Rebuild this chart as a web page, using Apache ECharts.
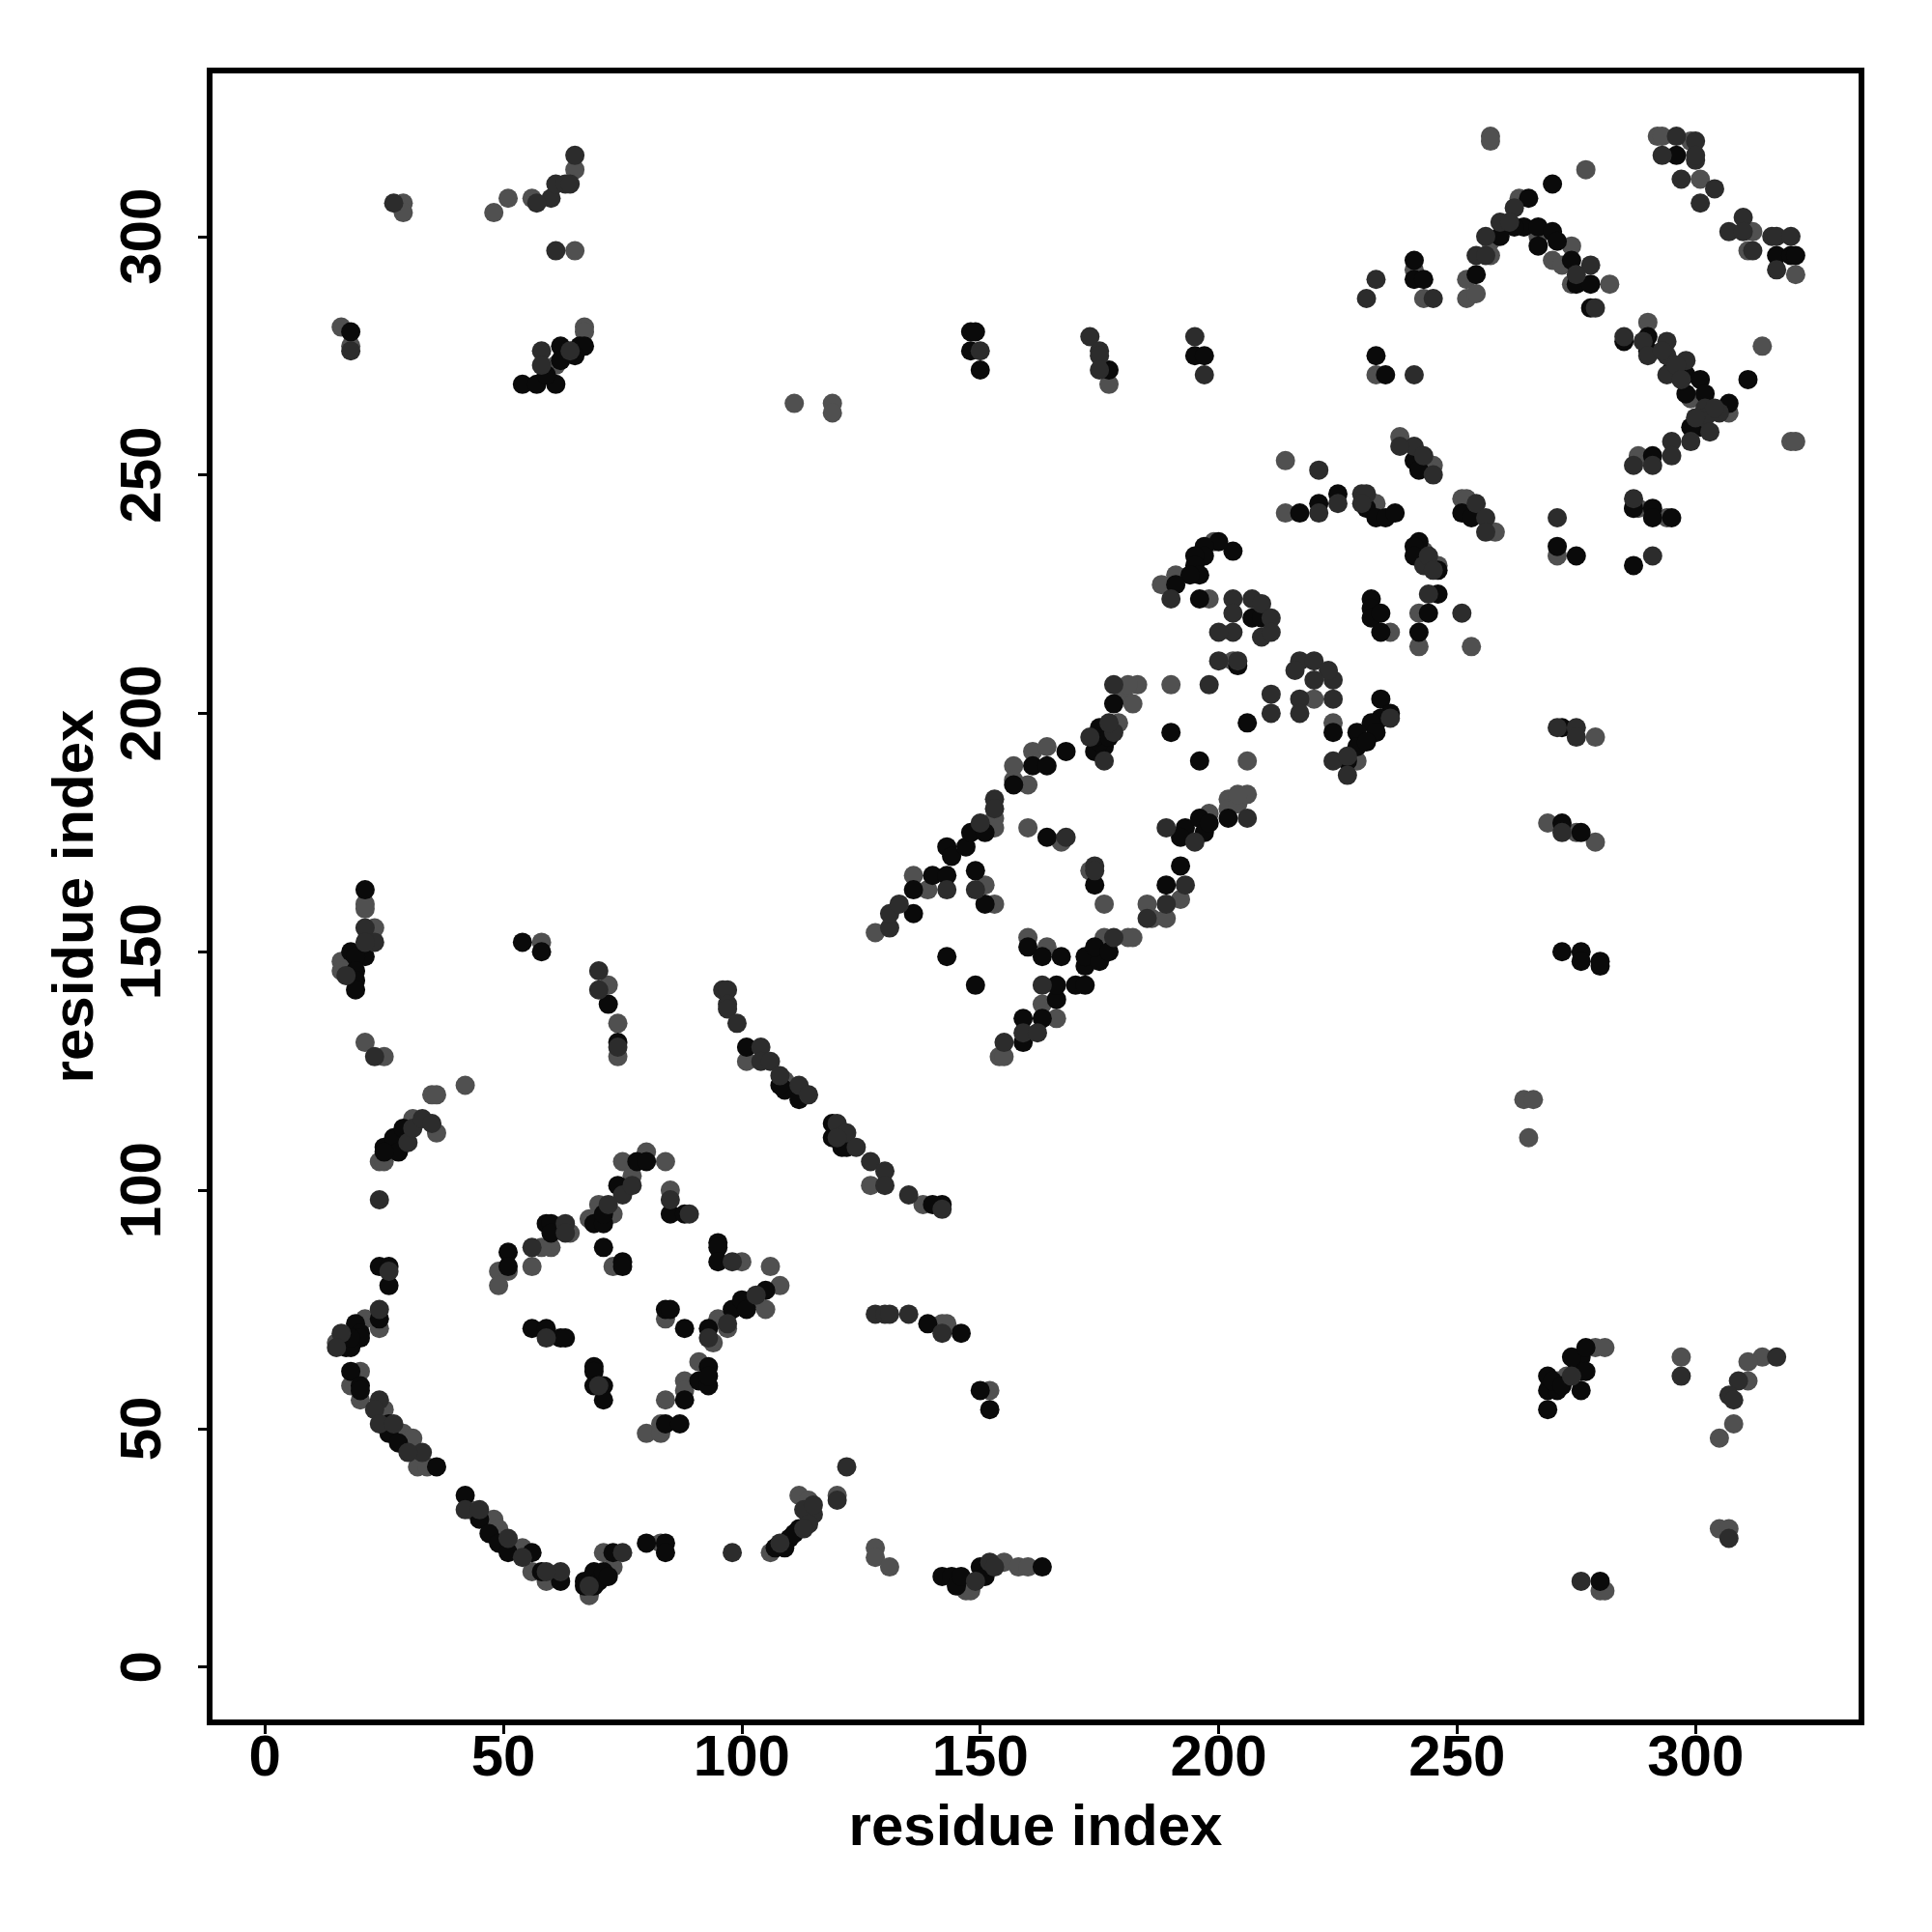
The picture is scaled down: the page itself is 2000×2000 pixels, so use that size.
<!DOCTYPE html>
<html><head><meta charset="utf-8">
<script src="https://cdn.jsdelivr.net/npm/echarts@6/dist/echarts.min.js"></script>
<style>html,body{margin:0;padding:0;background:#fff}#c{width:2000px;height:2000px}</style>
</head><body><div id="c"></div>
<script>
const xTitle = "residue index";
const yTitle = "residue index";
const tickValues = [0,50,100,150,200,250,300];
const axisMin = -11.6;
const axisMax = 334.8;

const greyPts = [
[15,68],[25,54],[20,62],[18,59],[20,56],[24,71],[29,49],[31,48],[32,42],[34,42],[43,33],[48,31],[49,29],[54,25],[56,20],[59,18],[68,15],[71,24],[73,21],[83,26],[21,73],
[49,83],[51,83],[49,80],[56,84],[60,88],[58,88],[64,91],[70,97],[73,95],[68,94],[73,84],[85,100],[100,85],[84,73],[91,64],[88,60],[88,58],[84,56],[80,49],[83,49],[83,51],[94,68],[95,73],[97,71],[102,77],[105,75],[106,84],[108,80],[80,108],[75,106],[84,106],[77,103],
[21,160],[21,159],[23,155],[16,148],[16,146],[21,131],[25,128],[42,122],[35,120],[36,120],[31,115],[36,112],[24,106],[25,106],[58,152],[72,143],[74,135],[74,128],[101,127],[109,123],[113,120],
[127,101],[138,97],[106,24],[112,36],[114,35],[128,25],[128,23],[131,21],[147,16],[148,16],[155,22],[158,21],[160,21],[152,58],[142,72],[143,72],[120,36],
[154,128],[155,128],[166,136],[163,139],[176,153],[181,153],[182,153],[128,154],[136,166],[139,163],[153,178],[153,176],[160,176],[151,164],[153,160],[160,153],[164,151],[167,173],[173,167],[176,160],[192,161],[185,160],[186,157],[189,157],[198,179],[202,182],[202,180],[204,181],[206,183],[204,183],
[157,189],[157,186],[160,185],[161,192],[164,193],[179,198],[180,204],[182,202],[183,206],[181,206],[190,206],[206,190],[220,203],[224,198],
[214,253],[214,242],[233,244],[238,258],[245,252],[251,245],[252,245],[258,238],[271,233],[199,236],[191,229],[188,227],[198,224],[236,217],[243,234],[246,231],[242,221],[242,214],[253,214],[279,195],[269,177],[275,175],[279,173],[229,190],[203,211],[287,243],
[264,119],[266,119],[265,111],[271,60],[273,61],[279,67],[281,67],[297,65],[314,65],[311,64],[311,60],[308,51],[305,48],[305,29],[307,29],[280,16],[281,16],
[16,281],[18,277],[29,307],[29,305],[48,305],[51,308],[56,308],[65,314],[65,297],[61,273],[67,281],[67,280],[111,265],[119,265],[119,263],[177,269],
[257,321],[257,320],[277,314],[292,321],[293,321],[299,320],[301,312],[312,301],[311,297],[321,292],[263,308],[257,299],[257,296],[252,291],[252,287],[254,288],[267,300],[274,298],[270,295],[272,294],[274,290],[282,290],[241,293],[243,287],[290,282],[299,266],[307,263],[303,263],[288,254],[314,277],[320,257],[321,257],[288,243],[294,241],[233,271]
];

const blackPts = [
[24,84],[26,84],[26,80],[24,73],[19,72],[20,70],[20,69],[17,67],[18,67],[18,69],[18,62],[20,59],[20,58],[26,51],[26,49],[28,47],[36,42],[42,36],[45,31],[47,28],[49,26],[51,24],[56,24],[58,20],[62,18],[67,18],[67,17],[69,20],[70,18],[69,17],[71,20],[72,19],[73,24],[80,26],[84,26],[84,24],
[51,87],[51,84],[59,93],[60,93],[60,91],[69,93],[71,93],[74,101],[71,88],[75,85],[75,84],[85,95],[88,95],[95,89],[95,88],[95,85],[56,71],[59,71],[62,69],[63,69],[69,63],[69,62],[69,59],[71,59],[71,56],[84,75],[85,75],[88,71],[93,63],[91,60],[93,59],[93,61],[88,56],[84,51],[87,51],[93,71],[98,75],[100,77],[101,75],[105,79],[78,106],[80,106],[71,95],
[21,163],[21,149],[18,150],[19,149],[19,146],[19,144],[19,142],[54,152],[58,150],[72,139],[74,131],[101,130],[109,121],[112,119],[108,122],[119,111],[121,109],[25,109],[27,111],[28,108],[29,113],[25,108],
[122,109],[119,114],[142,97],[140,97],[110,27],[112,29],[114,32],[107,25],[109,25],[111,28],[142,19],[144,19],[145,17],[146,19],[150,21],[151,19],[163,21],[150,58],[152,54],[139,72],[146,70],
[159,131],[159,136],[163,136],[166,140],[166,143],[170,143],[172,143],[172,147],[172,149],[175,148],[174,151],[177,150],[143,149],[149,143],[160,151],[163,149],[167,149],
[136,158],[136,163],[140,166],[143,166],[143,172],[144,170],[147,172],[148,175],[151,175],[149,167],[151,160],[164,174],[174,164],[192,168],[189,164],[193,176],[192,174],[196,178],[197,175],[198,177],[202,178],
[157,185],[161,189],[164,189],[168,192],[175,197],[174,192],[176,193],[175,194],[174,195],[177,195],[178,202],[190,196],[196,190],[206,198],[224,196],
[217,242],[221,244],[225,246],[231,243],[233,241],[235,241],[237,242],[241,253],[242,251],[251,242],[253,241],[271,235],[275,233],[287,231],[203,234],[200,236],[197,235],[197,233],[195,233],[195,231],[196,229],[194,229],[191,227],[196,224],
[207,220],[209,220],[204,210],[234,203],[236,200],[234,199],[232,198],[233,196],[229,196],[229,193],[231,194],[227,190],[232,224],[232,222],[232,220],[234,221],[234,217],[242,236],[241,235],[241,233],[246,230],[246,225],[244,221],[242,217],[272,197],[272,177],[276,175],
[272,150],[276,150],[276,148],[280,148],[280,147],[269,54],[269,58],[269,61],[271,58],[270,60],[272,59],[275,64],[276,65],[276,58],[276,62],[274,65],[277,67],[277,62],[280,18],
[18,280],[54,269],[57,269],[61,269],[59,271],[62,277],[66,277],[67,277],[62,274],[65,275],[148,280],[148,276],[149,280],[150,272],[177,272],[195,275],[197,275],
[270,311],[296,317],[265,308],[264,302],[262,302],[259,300],[254,292],[267,302],[270,301],[267,298],[271,299],[274,295],[275,290],[278,290],[278,285],[241,295],[241,291],[243,291],[285,278],[290,279],[290,276],[298,271],[295,272],[301,270],[298,267],[302,267],[307,265],[301,260],[299,260],[291,254],[287,243],[291,243],[291,241],[295,241],[311,270],[317,296],[320,296],[321,296],[233,275],[235,271]
];

const darkPts = [
[24,98],[26,83],[24,75],[16,70],[15,67],[24,56],[23,54],[24,51],[27,51],[33,45],[30,45],[42,33],[45,33],[51,27],[54,23],[62,20],[75,24],[98,24],[59,20],[68,17],
[56,88],[63,93],[63,91],[59,69],[70,59],[93,69],[97,72],[103,78],[98,85],[85,98],[89,95],[75,99],[77,101],[72,97],
[21,155],[23,152],[21,152],[17,145],[70,146],[70,142],[74,130],[96,142],[97,142],[97,139],[97,138],[99,135],[104,130],[104,127],[106,127],[108,124],[112,122],[114,120],[120,114],[122,112],[124,109],[30,110],[31,113],[33,115],[35,114],[23,128],
[127,106],[130,104],[130,101],[135,99],[142,96],[120,111],[108,26],[115,32],[113,33],[115,34],[114,30],[113,29],[120,35],[122,42],[149,18],[152,22],[153,21],[128,74],[130,74],[131,74],[135,74],[142,70],
[155,131],[159,133],[162,133],[163,143],[178,153],[131,155],[131,158],[133,160],[143,163],[150,177],[153,182],[153,180],[149,163],[168,174],[174,168],[174,167],[193,164],[189,160],[185,157],[189,176],[195,173],[206,178],
[173,195],[176,190],[178,196],[177,198],[178,206],[198,206],[211,204],[211,200],[217,203],[217,200],[224,207],[224,203],[224,190],[227,191],[227,187],
[221,251],[221,242],[225,244],[230,246],[231,246],[230,244],[241,256],[243,254],[238,256],[245,250],[254,244],[256,241],[256,238],[271,241],[190,224],
[203,224],[207,224],[209,223],[203,221],[211,220],[203,217],[200,217],[209,216],[211,217],[200,211],[204,211],[217,211],[216,209],[220,211],[223,209],[220,207],[236,199],[244,225],[243,231],[244,233],[245,230],[251,221],[271,197],[275,197],[275,195],[272,175],
[274,61],[297,61],[317,65],[309,60],[307,57],[308,56],[307,27],[276,18],
[58,276],[58,273],[64,276],[27,307],[60,308],[57,307],[61,311],[63,311],[64,311],[65,317],[61,297],[18,276],[150,276],[173,279],[175,276],[175,275],[175,272],[195,279],[197,271],
[296,321],[300,320],[293,317],[300,316],[300,317],[297,312],[304,310],[301,307],[310,304],[307,301],[310,301],[312,297],[316,300],[317,300],[320,300],[317,293],[262,306],[259,303],[261,303],[256,300],[254,296],[256,296],[278,294],[275,292],[279,285],[245,287],[285,279],[289,278],[294,278],[290,275],[294,275],[294,271],[298,274],[296,273],[297,270],[293,276],[305,263],[302,264],[302,262],[304,264],[300,262],[303,259],[299,257],[295,257],[295,254],[291,252],[287,252],[287,245],[241,271],[233,291],[231,287],[291,233]
];

const labelStyle = {fontFamily:"Liberation Sans",fontWeight:"bold",fontSize:60,color:"#000"};
const tickStyle = {show:true,length:12,lineStyle:{color:"#000",width:3},customValues:tickValues};

function scatter(data,color){
  return {type:"scatter",data:data,symbol:"circle",symbolSize:20,silent:true,
          itemStyle:{color:color,opacity:1},clip:false,animation:false};
}

const chart = echarts.init(document.getElementById("c"),null,{renderer:"canvas"});
chart.setOption({
  animation:false,
  backgroundColor:"#fff",
  grid:{left:217,top:73,width:1710,height:1710,show:true,backgroundColor:"transparent",borderColor:"#000",borderWidth:6},
  xAxis:{type:"value",min:axisMin,max:axisMax,splitLine:{show:false},axisLine:{show:false,onZero:false},
    axisTick:tickStyle,
    axisLabel:Object.assign({},labelStyle,{customValues:tickValues,margin:8,hideOverlap:false}),
    name:xTitle,nameLocation:"middle",nameGap:80,nameTextStyle:labelStyle},
  yAxis:{type:"value",min:axisMin,max:axisMax,splitLine:{show:false},axisLine:{show:false,onZero:false},
    axisTick:tickStyle,
    axisLabel:Object.assign({},labelStyle,{customValues:tickValues,margin:68,rotate:90,hideOverlap:false,align:"center",verticalAlign:"middle"}),
    name:yTitle,nameLocation:"middle",nameGap:108,nameRotate:90,nameTextStyle:labelStyle},
  series:[scatter(greyPts,"#505050"),scatter(blackPts,"#0a0a0a"),scatter(darkPts,"#2c2c2c")]
});
</script></body></html>
